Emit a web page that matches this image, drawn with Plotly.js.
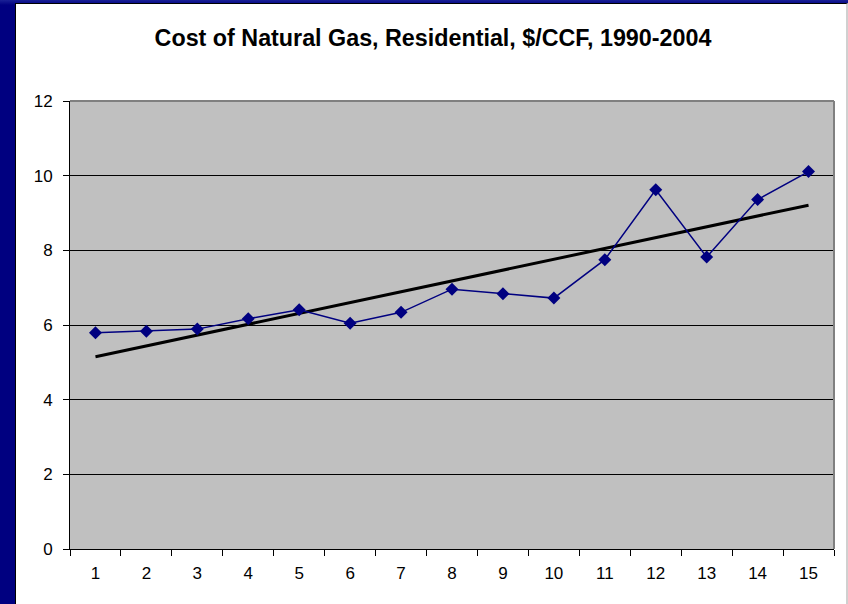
<!DOCTYPE html>
<html>
<head>
<meta charset="utf-8">
<script src="https://cdn.plot.ly/plotly-3.0.1.min.js"></script>
<style>
  html, body { margin: 0; padding: 0; width: 848px; height: 604px; overflow: hidden;
    background: linear-gradient(to bottom, #1a2196 0px, #000080 5px, #000080 100%); }
  #frame { position: absolute; left: 15px; top: 3px; width: 830px; height: 601px;
    border-top: 1px solid #000; border-left: 1px solid #000; border-right: 2px solid #d0d0d0; background: #fff; }
  #chart { position: absolute; left: 0; top: 0; width: 830px; height: 600px; }
</style>
</head>
<body>
<div id="frame"><div id="chart"></div></div>
<script>
// Data
const categories = ['1','2','3','4','5','6','7','8','9','10','11','12','13','14','15'];
const costValues = [5.79, 5.83, 5.89, 6.17, 6.41, 6.05, 6.34, 6.96, 6.84, 6.72, 7.75, 9.62, 7.82, 9.36, 10.11];
const trendCategories = ['1', '15'];
const trendValues = [5.15, 9.21];
const yTickValues = [0, 2, 4, 6, 8, 10, 12];
const chartTitle = 'Cost of Natural Gas, Residential, $/CCF, 1990-2004';

const font = 'Liberation Sans, Arial, sans-serif';

const traces = [
  {
    x: trendCategories, y: trendValues, type: 'scatter', mode: 'lines',
    line: { color: '#000000', width: 3 }, hoverinfo: 'skip', showlegend: false
  },
  {
    x: categories, y: costValues, type: 'scatter', mode: 'lines+markers',
    line: { color: '#000080', width: 1.5 },
    marker: { symbol: 'diamond', size: 10, color: '#000080' },
    showlegend: false
  }
];

const layout = {
  width: 830, height: 600,
  margin: { l: 54, r: 12, t: 97, b: 55 },
  paper_bgcolor: '#ffffff',
  plot_bgcolor: '#c0c0c0',
  font: { family: font, size: 17, color: '#000' },
  title: {
    text: '<b>' + chartTitle + '</b>',
    font: { family: font, size: 23.3, color: '#000' },
    xref: 'container', x: 0.5024, xanchor: 'center',
    yref: 'container', y: 0.944, yanchor: 'middle'
  },
  xaxis: {
    type: 'category', categoryorder: 'array', categoryarray: categories,
    range: [-0.5, 14.5],
    tickson: 'boundaries', ticks: 'outside', ticklen: 6, tickcolor: '#000', tickwidth: 1,
    showgrid: false, zeroline: false,
    showline: true, linecolor: '#000', linewidth: 1,
    ticklabelstandoff: 9,
    tickfont: { family: font, size: 17, color: '#000' },
    fixedrange: true
  },
  yaxis: {
    range: [0, 12], tickvals: yTickValues, ticktext: yTickValues.map(String),
    ticks: 'outside', ticklen: 6, tickcolor: '#000', tickwidth: 1,
    showgrid: true, gridcolor: '#000', gridwidth: 1, zeroline: false,
    showline: true, linecolor: '#000', linewidth: 1,
    ticklabelstandoff: 7,
    tickfont: { family: font, size: 17, color: '#000' },
    fixedrange: true
  },
  shapes: [
    { type: 'line', xref: 'paper', yref: 'paper', x0: 0, x1: 1, y0: 1, y1: 1,
      line: { color: '#808080', width: 2 }, layer: 'above' },
    { type: 'line', xref: 'paper', yref: 'paper', x0: 1, x1: 1, y0: 0, y1: 1,
      line: { color: '#808080', width: 2 }, layer: 'above' }
  ]
};

Plotly.newPlot('chart', traces, layout, { staticPlot: true, displayModeBar: false });
</script>
</body>
</html>
